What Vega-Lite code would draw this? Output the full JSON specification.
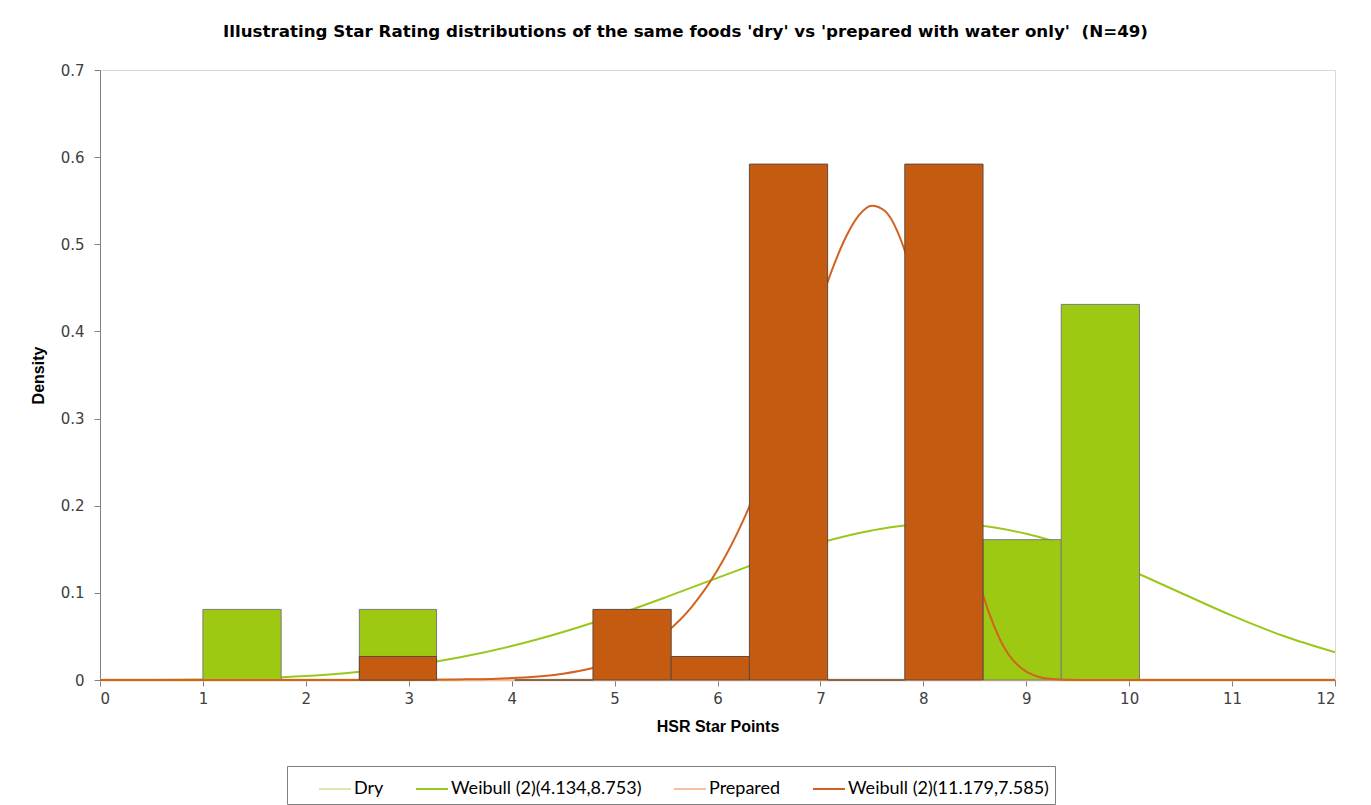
{
  "$schema": "https://vega.github.io/schema/vega-lite/v6.json",
  "width": 1235,
  "height": 610,
  "autosize": {"type": "none"},
  "padding": {"left": 100, "top": 70, "right": 36, "bottom": 125},
  "background": "white",
  "title": {
    "text": "Illustrating Star Rating distributions of the same foods 'dry' vs 'prepared with water only'\u00a0 (N=49)",
    "font": "DejaVu Sans",
    "fontSize": 16.7,
    "fontWeight": "bold",
    "color": "#000000",
    "anchor": "middle",
    "dx": -32,
    "offset": 22
  },
  "config": {
    "view": {"stroke": "#d9d9d9", "strokeWidth": 1},
    "axis": {
      "grid": false,
      "domainColor": "#808080",
      "tickColor": "#808080",
      "tickSize": 6,
      "labelFont": "DejaVu Sans",
      "labelFontSize": 15,
      "labelColor": "#404040",
      "titleFont": "Liberation Sans",
      "titleFontSize": 16,
      "titleFontWeight": "bold",
      "titleColor": "#000000"
    }
  },
  "datasets": {
    "curves": [
      {"series": "Dry", "x": 0, "y": 0},
      {"series": "Dry", "x": 12, "y": 0},
      {"series": "Prepared", "x": 0, "y": 0},
      {"series": "Prepared", "x": 12, "y": 0},
      {"series": "Weibull (2)(4.134,8.753)", "x": 0, "y": 0},
      {"series": "Weibull (2)(4.134,8.753)", "x": 0.5, "y": 0.0001},
      {"series": "Weibull (2)(4.134,8.753)", "x": 1, "y": 0.0005},
      {"series": "Weibull (2)(4.134,8.753)", "x": 1.5, "y": 0.0019},
      {"series": "Weibull (2)(4.134,8.753)", "x": 2, "y": 0.0046},
      {"series": "Weibull (2)(4.134,8.753)", "x": 2.5, "y": 0.0093},
      {"series": "Weibull (2)(4.134,8.753)", "x": 3, "y": 0.0163},
      {"series": "Weibull (2)(4.134,8.753)", "x": 3.5, "y": 0.0261},
      {"series": "Weibull (2)(4.134,8.753)", "x": 4, "y": 0.039},
      {"series": "Weibull (2)(4.134,8.753)", "x": 4.5, "y": 0.0551},
      {"series": "Weibull (2)(4.134,8.753)", "x": 5, "y": 0.074},
      {"series": "Weibull (2)(4.134,8.753)", "x": 5.5, "y": 0.0951},
      {"series": "Weibull (2)(4.134,8.753)", "x": 6, "y": 0.1172},
      {"series": "Weibull (2)(4.134,8.753)", "x": 6.5, "y": 0.1388},
      {"series": "Weibull (2)(4.134,8.753)", "x": 7, "y": 0.1576},
      {"series": "Weibull (2)(4.134,8.753)", "x": 7.5, "y": 0.1716},
      {"series": "Weibull (2)(4.134,8.753)", "x": 8, "y": 0.1788},
      {"series": "Weibull (2)(4.134,8.753)", "x": 8.5, "y": 0.1777},
      {"series": "Weibull (2)(4.134,8.753)", "x": 9, "y": 0.1678},
      {"series": "Weibull (2)(4.134,8.753)", "x": 9.5, "y": 0.1501},
      {"series": "Weibull (2)(4.134,8.753)", "x": 10, "y": 0.1265},
      {"series": "Weibull (2)(4.134,8.753)", "x": 10.5, "y": 0.1001},
      {"series": "Weibull (2)(4.134,8.753)", "x": 11, "y": 0.0738},
      {"series": "Weibull (2)(4.134,8.753)", "x": 11.5, "y": 0.0505},
      {"series": "Weibull (2)(4.134,8.753)", "x": 12, "y": 0.0319},
      {"series": "Weibull (2)(11.179,7.585)", "x": 0, "y": 0},
      {"series": "Weibull (2)(11.179,7.585)", "x": 1, "y": 0},
      {"series": "Weibull (2)(11.179,7.585)", "x": 2, "y": 0},
      {"series": "Weibull (2)(11.179,7.585)", "x": 3, "y": 0.0001},
      {"series": "Weibull (2)(11.179,7.585)", "x": 3.5, "y": 0.0006},
      {"series": "Weibull (2)(11.179,7.585)", "x": 4, "y": 0.0022},
      {"series": "Weibull (2)(11.179,7.585)", "x": 4.5, "y": 0.0072},
      {"series": "Weibull (2)(11.179,7.585)", "x": 5, "y": 0.021},
      {"series": "Weibull (2)(11.179,7.585)", "x": 5.25, "y": 0.0343},
      {"series": "Weibull (2)(11.179,7.585)", "x": 5.5, "y": 0.0544},
      {"series": "Weibull (2)(11.179,7.585)", "x": 5.75, "y": 0.084},
      {"series": "Weibull (2)(11.179,7.585)", "x": 6, "y": 0.1261},
      {"series": "Weibull (2)(11.179,7.585)", "x": 6.25, "y": 0.1831},
      {"series": "Weibull (2)(11.179,7.585)", "x": 6.5, "y": 0.2563},
      {"series": "Weibull (2)(11.179,7.585)", "x": 6.75, "y": 0.3427},
      {"series": "Weibull (2)(11.179,7.585)", "x": 6.875, "y": 0.3884},
      {"series": "Weibull (2)(11.179,7.585)", "x": 7, "y": 0.4331},
      {"series": "Weibull (2)(11.179,7.585)", "x": 7.125, "y": 0.4744},
      {"series": "Weibull (2)(11.179,7.585)", "x": 7.25, "y": 0.5089},
      {"series": "Weibull (2)(11.179,7.585)", "x": 7.375, "y": 0.5334},
      {"series": "Weibull (2)(11.179,7.585)", "x": 7.5, "y": 0.5442},
      {"series": "Weibull (2)(11.179,7.585)", "x": 7.625, "y": 0.5384},
      {"series": "Weibull (2)(11.179,7.585)", "x": 7.75, "y": 0.5143},
      {"series": "Weibull (2)(11.179,7.585)", "x": 7.875, "y": 0.4717},
      {"series": "Weibull (2)(11.179,7.585)", "x": 8, "y": 0.4132},
      {"series": "Weibull (2)(11.179,7.585)", "x": 8.125, "y": 0.3432},
      {"series": "Weibull (2)(11.179,7.585)", "x": 8.25, "y": 0.2684},
      {"series": "Weibull (2)(11.179,7.585)", "x": 8.375, "y": 0.1957},
      {"series": "Weibull (2)(11.179,7.585)", "x": 8.5, "y": 0.132},
      {"series": "Weibull (2)(11.179,7.585)", "x": 8.625, "y": 0.0813},
      {"series": "Weibull (2)(11.179,7.585)", "x": 8.75, "y": 0.0452},
      {"series": "Weibull (2)(11.179,7.585)", "x": 9, "y": 0.0097},
      {"series": "Weibull (2)(11.179,7.585)", "x": 9.25, "y": 0.0011},
      {"series": "Weibull (2)(11.179,7.585)", "x": 9.5, "y": 0.0001},
      {"series": "Weibull (2)(11.179,7.585)", "x": 10, "y": 0},
      {"series": "Weibull (2)(11.179,7.585)", "x": 11, "y": 0},
      {"series": "Weibull (2)(11.179,7.585)", "x": 12, "y": 0}
    ],
    "bars": [
      {"group": "Dry", "x0": 1.0, "x1": 1.76, "density": 0.081},
      {"group": "Dry", "x0": 2.52, "x1": 3.27, "density": 0.081},
      {"group": "Dry", "x0": 8.58, "x1": 9.34, "density": 0.161},
      {"group": "Dry", "x0": 9.34, "x1": 10.1, "density": 0.431},
      {"group": "Prepared", "x0": 2.52, "x1": 3.27, "density": 0.027},
      {"group": "Prepared", "x0": 4.03, "x1": 4.79, "density": 0},
      {"group": "Prepared", "x0": 4.79, "x1": 5.55, "density": 0.081},
      {"group": "Prepared", "x0": 5.55, "x1": 6.31, "density": 0.027},
      {"group": "Prepared", "x0": 6.31, "x1": 7.07, "density": 0.592},
      {"group": "Prepared", "x0": 7.07, "x1": 7.82, "density": 0},
      {"group": "Prepared", "x0": 7.82, "x1": 8.58, "density": 0.592}
    ]
  },
  "layer": [
    {
      "data": {"name": "curves"},
      "transform": [{"filter": "datum.series === 'Dry' || datum.series === 'Prepared'"}],
      "mark": {"type": "line", "strokeWidth": 2.5},
      "encoding": {
        "x": {"field": "x", "type": "quantitative", "scale": {"domain": [0, 12], "nice": false, "zero": false},
              "axis": {"values": [0,1,2,3,4,5,6,7,8,9,10,11,12], "format": "d", "title": "HSR Star Points", "labelPadding": 5, "titlePadding": 12}},
        "y": {"field": "y", "type": "quantitative", "scale": {"domain": [0, 0.7], "nice": false},
              "axis": {"values": [0,0.1,0.2,0.3,0.4,0.5,0.6,0.7], "format": ".1~f", "title": "Density", "labelPadding": 10, "titlePadding": 14}},
        "color": {"field": "series", "type": "nominal",
                  "scale": {"domain": ["Dry", "Weibull (2)(4.134,8.753)", "Prepared", "Weibull (2)(11.179,7.585)"],
                            "range": ["#d8ecb2", "#99c81c", "#f4c0a0", "#d2621e"]},
                  "legend": {"title": null, "orient": "none", "legendX": 187, "legendY": 696, "direction": "horizontal", "columns": 4,
                             "strokeColor": "#808080", "padding": 6, "symbolType": "stroke", "symbolStrokeWidth": 2, "symbolSize": 1024,
                             "symbolOffset": 25, "labelOffset": 2,
                             "labelExpr": "datum.label === 'Weibull (2)(11.179,7.585)' ? datum.label + '\u00a0\u00a0\u00a0\u00a0\u00a0\u00a0' : datum.label",
                             "labelFont": "Lato", "labelFontSize": 18, "labelColor": "#000000", "columnPadding": 6, "labelLimit": 400}},
        "detail": {"field": "series"}
      }
    },
    {
      "data": {"name": "curves"},
      "transform": [{"filter": "datum.series === 'Weibull (2)(4.134,8.753)'"}],
      "mark": {"type": "line", "strokeWidth": 2, "interpolate": "monotone"},
      "encoding": {
        "x": {"field": "x", "type": "quantitative"},
        "y": {"field": "y", "type": "quantitative"},
        "color": {"field": "series", "type": "nominal"}
      }
    },
    {
      "data": {"name": "bars"},
      "transform": [{"filter": "datum.group === 'Dry'"}],
      "mark": {"type": "rect", "fill": "#9ec912", "stroke": "#7a7a7a", "strokeWidth": 1},
      "encoding": {
        "x": {"field": "x0", "type": "quantitative"},
        "x2": {"field": "x1"},
        "y": {"field": "density", "type": "quantitative"},
        "y2": {"datum": 0}
      }
    },
    {
      "data": {"name": "curves"},
      "transform": [{"filter": "datum.series === 'Weibull (2)(11.179,7.585)'"}],
      "mark": {"type": "line", "strokeWidth": 2, "interpolate": "monotone"},
      "encoding": {
        "x": {"field": "x", "type": "quantitative"},
        "y": {"field": "y", "type": "quantitative"},
        "color": {"field": "series", "type": "nominal"}
      }
    },
    {
      "data": {"name": "bars"},
      "transform": [{"filter": "datum.group === 'Prepared'"}],
      "mark": {"type": "rect", "fill": "#c55a11", "stroke": "#5e4a3e", "strokeWidth": 1},
      "encoding": {
        "x": {"field": "x0", "type": "quantitative"},
        "x2": {"field": "x1"},
        "y": {"field": "density", "type": "quantitative"},
        "y2": {"datum": 0}
      }
    }
  ]
}
